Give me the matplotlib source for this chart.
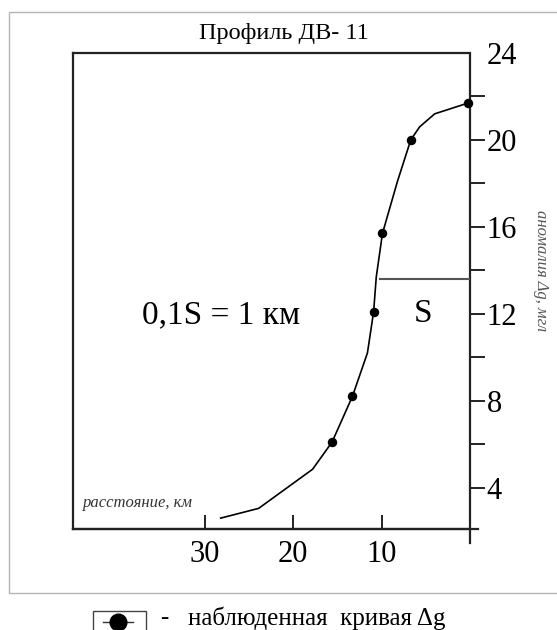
import matplotlib
matplotlib.use('Agg')
import matplotlib.pyplot as plt
from matplotlib.patches import Rectangle
from matplotlib.lines import Line2D

plt.rcParams['font.family'] = ['Liberation Serif', 'DejaVu Serif']

# observed points (distance, km; anomaly, mGal)
obs_dist = [0.2, 6.7, 9.9, 10.9, 13.3, 15.6]
obs_dg = [21.7, 20.0, 15.7, 12.1, 8.2, 6.1]

# drawn curve through the observations
curve_dist = [28.2, 23.9, 17.8, 15.6, 13.3, 11.6, 10.9, 10.6, 9.9, 8.2, 6.7, 5.7, 4.0, 0.2]
curve_dg = [2.6, 3.05, 4.85, 6.1, 8.2, 10.2, 12.1, 13.7, 15.7, 18.1, 20.0, 20.6, 21.2, 21.7]

# segment S
s_dist = [10.2, 0]
s_level = 13.6

x_ticks = [30, 20, 10]
y_ticks = [4, 8, 12, 16, 20, 24]
y_minor = [6, 10, 14, 18, 22]

fig = plt.figure(figsize=(5.57, 6.3), dpi=100)
W, H = 557, 630

# light frame around the drawing
fig.patches.append(Rectangle((9 / W, 1 - 593 / H), 1.0, (593 - 12) / H,
                             transform=fig.transFigure, fill=False,
                             edgecolor='#b4b4b4', linewidth=1.0))

ax = fig.add_axes([73 / W, 1 - 529 / H, (470 - 73) / W, (529 - 53) / H])
ax.set_xlim(44.9, 0)
ax.set_ylim(2.1, 24)

ax.spines['right'].set_visible(False)
for side in ['left', 'top', 'bottom']:
    ax.spines[side].set_linewidth(1.6)
    ax.spines[side].set_color('#222222')

# right vertical axis reaches below the bottom line, bottom line runs past it
ax.axvline(0, ymin=-0.03, ymax=0.995, color='#222222', lw=1.6, clip_on=False)
ax.axhline(2.1, xmin=0, xmax=1.02, color='#222222', lw=1.6, clip_on=False)

ax.plot(curve_dist, curve_dg, color='black', lw=1.2)
ax.plot(obs_dist, obs_dg, 'o', color='black', markersize=5.8, clip_on=False)
ax.plot(s_dist, [s_level, s_level], color='#555555', lw=1.5)

ax.set_xticks(x_ticks)
ax.set_xticklabels([str(v) for v in x_ticks], fontsize=22)
ax.tick_params(axis='x', direction='in', length=10, width=1.4, pad=8, color='#222222')

ax.yaxis.tick_right()
ax.set_yticks(y_ticks)
ax.set_yticklabels([str(v) for v in y_ticks], fontsize=22)
ax.set_yticks(y_minor, minor=True)
ax.tick_params(axis='y', which='both', direction='out', length=11, width=1.4, pad=1, color='#222222')
ax.yaxis.get_major_ticks()[-1].tick2line.set_visible(False)

fig.text(284 / W, 1 - 33 / H, 'Профиль ДВ- 11', fontsize=17.5, ha='center', va='center')
ax.text(0.025, 0.055, 'расстояние, км', transform=ax.transAxes, fontsize=12,
        style='italic', color='#333333', ha='left', va='center')
fig.text(221 / W, 1 - 315 / H, '0,1S = 1 км', fontsize=24, ha='center', va='center')
ax.text(5.3, 12.0, 'S', fontsize=24, ha='center', va='center')
fig.text(541 / W, 1 - 271 / H, 'аномалия Δg, мгл', fontsize=12, style='italic',
         color='#555555', rotation=270, ha='center', va='center')

# legend at the bottom
fig.patches.append(Rectangle((93 / W, 1 - 632 / H), 53 / W, 21 / H,
                             transform=fig.transFigure, fill=False,
                             edgecolor='#444444', linewidth=1.0, clip_on=False))
fig.lines.append(Line2D([103 / W, 133 / W], [1 - 622 / H, 1 - 622 / H],
                        transform=fig.transFigure, color='#333333', lw=1.0))
fig.lines.append(Line2D([118 / W], [1 - 622 / H], transform=fig.transFigure,
                        marker='o', markersize=12, color='black'))
fig.text(164 / W, 1 - 618 / H, '-', fontsize=18, ha='center', va='center')
fig.text(188 / W, 1 - 618 / H, 'наблюденная  кривая Δg', fontsize=18, ha='left', va='center')

fig.savefig('out.png', dpi=100)
